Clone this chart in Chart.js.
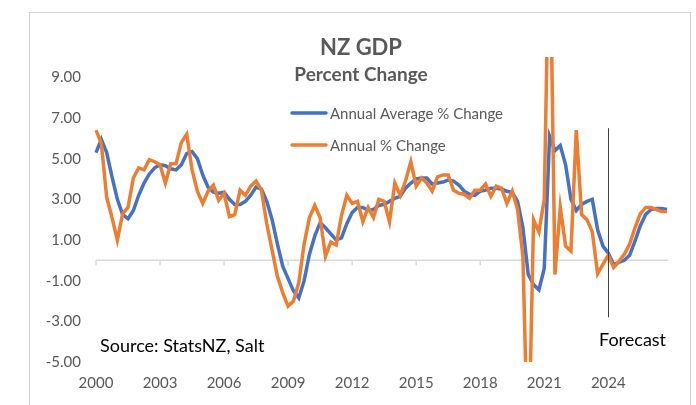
<!DOCTYPE html>
<html>
<head>
<meta charset="utf-8">
<script src="https://cdn.jsdelivr.net/npm/chart.js@4.4.1/dist/chart.umd.min.js"></script>
<style>
  html, body { margin: 0; padding: 0; background: #fff; }
  #wrap { width: 696px; height: 405px; }
</style>
</head>
<body>
<div id="wrap"><canvas id="gdpChart" width="696" height="405"></canvas></div>
<script>
// Datos trimestrales 2000 Q1 - 2026 Q4
const years = [];
for (let y = 2000; y <= 2026; y++) years.push(y);
const quarters = [];
years.forEach(y => { for (let q = 1; q <= 4; q++) quarters.push(y + ' Q' + q); });

const yearTicks = ['2000', '2003', '2006', '2009', '2012', '2015', '2018', '2021', '2024'];
const yTicks = [-5, -3, -1, 1, 3, 5, 7, 9];

// Annual Average % Change
const annualAverage = [
    5.3, 5.95, 5.3, 4.1, 3.0, 2.25, 2.05, 2.45, 3.2, 3.8,
    4.25, 4.55, 4.7, 4.65, 4.5, 4.45, 4.7, 5.25, 5.35, 5.0,
    4.2, 3.6, 3.35, 3.3, 3.35, 3.0, 2.75, 2.75, 2.9, 3.2,
    3.6, 3.5, 2.9, 2.0, 0.8, -0.3, -0.9, -1.5, -1.85, -1.0,
    0.3, 1.2, 1.85, 1.6, 1.3, 1.0, 1.1, 1.8, 2.35, 2.6,
    2.6, 2.45, 2.5, 2.7, 2.75, 2.9, 3.05, 3.15, 3.55, 3.8,
    4.0, 4.05, 4.05, 3.75, 3.8, 3.85, 3.95, 3.9, 3.7, 3.4,
    3.25, 3.2, 3.4, 3.45, 3.55, 3.55, 3.5, 3.4, 3.35, 2.9,
    1.6, -0.7, -1.2, -1.45, -0.4, 6.1, 5.4, 5.65, 4.7, 3.0,
    2.45, 2.75, 2.9, 3.0, 1.5, 0.7, 0.35, -0.2, -0.1, 0.0,
    0.25, 0.95, 1.7, 2.25, 2.5, 2.55, 2.55, 2.5
];

// Annual % Change
const annualChange = [
    6.4, 5.75, 3.1, 2.1, 1.0, 2.3, 2.6, 4.05, 4.55, 4.45,
    4.95, 4.85, 4.7, 3.8, 4.75, 4.75, 5.8, 6.2, 4.45, 3.4,
    2.8, 3.4, 3.7, 2.95, 3.3, 2.15, 2.25, 3.45, 3.2, 3.65,
    3.9, 3.45, 1.8, 0.5, -0.8, -1.6, -2.25, -2.0, -1.1, 0.8,
    2.1, 2.7, 2.1, 0.2, 0.9, 0.75, 2.2, 3.2, 2.8, 2.9,
    1.9, 2.6, 2.1, 3.0, 2.9, 1.9, 3.8, 3.2, 3.9, 4.85,
    3.65, 4.05, 3.8, 3.4, 4.1, 4.2, 4.2, 3.45, 3.3, 3.25,
    3.05, 3.45, 3.45, 3.75, 3.15, 3.65, 3.55, 2.8, 3.4, 2.5,
    0.2, -10.3, 2.0, 1.4, 3.0, 17.4, -0.7, 2.6, 0.7, 0.45,
    6.4, 2.25, 2.0, 1.4, -0.65, -0.2, 0.25, -0.35, -0.05, 0.3,
    0.8, 1.6, 2.3, 2.6, 2.6, 2.5, 2.4, 2.4
];

const forecastStart = '2024 Q1';
const forecastSpan = [6.5, -2.8];

const BLUE = '#4472C4';
const ORANGE = '#ED7D31';
const GREY_TEXT = '#595959';
const FONT = 'Lato, "Open Sans", sans-serif';

// Marco, títulos, leyenda y anotaciones
const decorPlugin = {
    id: 'decor',
    beforeDraw(chart) {
        const ctx = chart.ctx;
        ctx.save();
        ctx.strokeStyle = '#D0D3D6';
        ctx.lineWidth = 1;
        ctx.strokeRect(29.5, 12.5, 661, 420);
        ctx.restore();
    },
    beforeDatasetsDraw(chart) {
        const { ctx, scales: { x, y } } = chart;
        const y0 = y.getPixelForValue(0);
        ctx.save();
        ctx.strokeStyle = '#D9D9D9';
        ctx.lineWidth = 1.5;
        ctx.beginPath();
        ctx.moveTo(x.left, y0);
        ctx.lineTo(x.right + 1.5, y0);
        yearTicks.forEach(t => {
            const px = x.getPixelForValue(quarters.indexOf(t + ' Q1'));
            ctx.moveTo(px, y0);
            ctx.lineTo(px, y0 + 5);
        });
        ctx.stroke();
        ctx.restore();
    },
    afterDatasetsDraw(chart) {
        const { ctx, scales: { x, y } } = chart;
        const fx = Math.round(x.getPixelForValue(quarters.indexOf(forecastStart))) + 0.5;
        ctx.save();
        ctx.strokeStyle = '#404040';
        ctx.lineWidth = 1;
        ctx.beginPath();
        ctx.moveTo(fx, y.getPixelForValue(forecastSpan[0]));
        ctx.lineTo(fx, y.getPixelForValue(forecastSpan[1]));
        ctx.stroke();

        // títulos
        ctx.fillStyle = GREY_TEXT;
        ctx.textAlign = 'center';
        ctx.textBaseline = 'alphabetic';
        ctx.font = 'bold 22px ' + FONT;
        ctx.fillText('NZ GDP', 361, 55);
        ctx.font = 'bold 19px ' + FONT;
        ctx.fillText('Percent Change', 361, 81);

        // leyenda
        const items = [
            { text: 'Annual Average % Change', color: BLUE, y: 113 },
            { text: 'Annual % Change', color: ORANGE, y: 145 }
        ];
        ctx.textAlign = 'left';
        ctx.textBaseline = 'middle';
        ctx.font = '15px ' + FONT;
        items.forEach(it => {
            ctx.strokeStyle = it.color;
            ctx.lineWidth = 3.5;
            ctx.lineCap = 'round';
            ctx.beginPath();
            ctx.moveTo(292, it.y);
            ctx.lineTo(326, it.y);
            ctx.stroke();
            ctx.fillStyle = GREY_TEXT;
            ctx.fillText(it.text, 330, it.y + 1);
        });

        // fuente y pronóstico
        ctx.fillStyle = '#000';
        ctx.textBaseline = 'alphabetic';
        ctx.font = '18px ' + FONT;
        ctx.fillText('Source: StatsNZ, Salt', 100, 352);
        ctx.fillText('Forecast', 599, 346);
        ctx.restore();
    }
};

const ctx = document.getElementById('gdpChart').getContext('2d');
const gdpChart = new Chart(ctx, {
    type: 'line',
    data: {
        labels: quarters,
        datasets: [
            {
                label: 'Annual Average % Change',
                data: annualAverage,
                borderColor: BLUE,
                borderWidth: 3.5,
                pointRadius: 0,
                tension: 0,
                order: 1
            },
            {
                label: 'Annual % Change',
                data: annualChange,
                borderColor: ORANGE,
                borderWidth: 3.5,
                pointRadius: 0,
                tension: 0,
                order: 0
            }
        ]
    },
    options: {
        responsive: false,
        animation: false,
        layout: { padding: { left: 30, right: 29, top: 57, bottom: 1 } },
        plugins: {
            legend: { display: false },
            tooltip: { enabled: false }
        },
        scales: {
            x: {
                offset: false,
                grid: { display: false, drawTicks: false },
                border: { display: false },
                ticks: {
                    autoSkip: false,
                    maxRotation: 0,
                    padding: 12,
                    color: GREY_TEXT,
                    font: { family: FONT, size: 15 },
                    callback: function (val) {
                        const lab = this.getLabelForValue(val);
                        const yr = lab.slice(0, 4);
                        return lab.endsWith('Q1') && yearTicks.includes(yr) ? yr : '';
                    }
                }
            },
            y: {
                min: -5,
                max: 10,
                grid: { display: false, drawTicks: false },
                border: { display: false },
                afterBuildTicks: s => { s.ticks = yTicks.map(v => ({ value: v })); },
                afterFit: s => { s.width = 66; },
                ticks: {
                    padding: 15,
                    color: GREY_TEXT,
                    font: { family: FONT, size: 15 },
                    callback: v => v.toFixed(2)
                }
            }
        }
    },
    plugins: [decorPlugin]
});
</script>
</body>
</html>
